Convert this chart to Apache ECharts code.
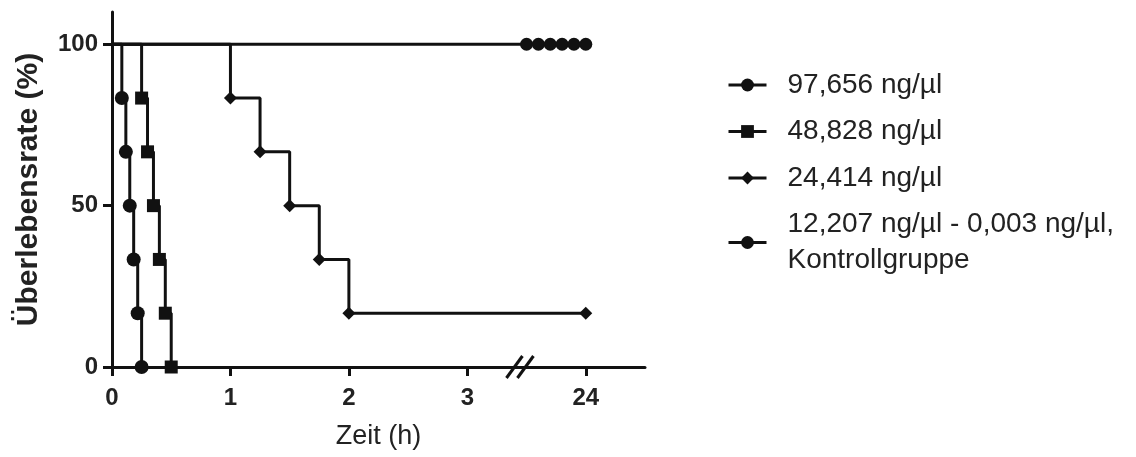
<!DOCTYPE html>
<html>
<head>
<meta charset="utf-8">
<script src="https://cdn.jsdelivr.net/npm/echarts@6/dist/echarts.min.js"></script>
<style>
html,body{margin:0;padding:0;background:#fff;}
#c{width:1136px;height:457px;}
</style>
</head>
<body>
<div id="c"></div>
<script>
// Axis positions: 0,1,2,3 h, then axis break, position 4 = 24 h
const xTickPos = [0, 1, 2, 3, 4];
const xTickLabels = ['0', '1', '2', '3', '24'];
const yTicks = [0, 50, 100];
const seriesNames = ['97,656 ng/µl', '48,828 ng/µl', '24,414 ng/µl', '12,207 ng/µl - 0,003 ng/µl,\nKontrollgruppe'];

const x97 = [0, 0.083, 0.117, 0.15, 0.183, 0.217, 0.25];
const y97 = [100, 83.33, 66.67, 50, 33.33, 16.67, 0];
const x48 = [0, 0.25, 0.3, 0.35, 0.4, 0.45, 0.5];
const y48 = [100, 83.33, 66.67, 50, 33.33, 16.67, 0];
const x24 = [0, 1, 1.25, 1.5, 1.75, 2, 4];
const y24 = [100, 83.33, 66.67, 50, 33.33, 16.67, 16.67];
const xCtrl = [0, 3.5, 3.6, 3.7, 3.8, 3.9, 4.0];
const yCtrl = [100, 100, 100, 100, 100, 100, 100];

const INK = '#111';
const TXT = '#222';
const FONT = 'Liberation Sans, Arial, sans-serif';

function pts(xs, ys) {
  return xs.map((x, i) => i === 0 ? { value: [x, ys[i]], symbol: 'none' } : [x, ys[i]]);
}
function mk(name, xs, ys, symbol, size) {
  return {
    name: name, type: 'line', step: 'end', data: pts(xs, ys),
    symbol: symbol, symbolSize: size, showSymbol: true,
    lineStyle: { color: INK, width: 3 },
    itemStyle: { color: INK },
    emphasis: { disabled: true }, animation: false, z: 3
  };
}

const chart = echarts.init(document.getElementById('c'), null, { renderer: 'canvas' });
const option = {
  backgroundColor: '#fff',
  animation: false,
  grid: { left: 112, right: 491, top: 12, bottom: 90 },
  xAxis: {
    type: 'value', min: 0, max: 4.5,
    name: 'Zeit (h)', nameLocation: 'middle', nameGap: 56,
    nameTextStyle: { fontFamily: FONT, fontSize: 27, color: TXT },
    axisLine: { show: true, onZero: true, lineStyle: { color: INK, width: 3 } },
    axisTick: { show: true, length: 9, customValues: xTickPos, lineStyle: { color: INK, width: 3 } },
    axisLabel: {
      customValues: xTickPos, margin: 19,
      formatter: function (v) { const i = xTickPos.indexOf(v); return i >= 0 ? xTickLabels[i] : ''; },
      fontFamily: FONT, fontSize: 24, fontWeight: 'bold', color: TXT
    },
    splitLine: { show: false }
  },
  yAxis: {
    type: 'value', min: 0, max: 110,
    name: 'Überlebensrate (%)', nameLocation: 'middle', nameGap: 68, nameRotate: 90,
    nameTextStyle: { fontFamily: FONT, fontSize: 30, fontWeight: 'bold', color: TXT },
    axisLine: { show: true, lineStyle: { color: INK, width: 3 } },
    axisTick: { show: true, length: 9, customValues: yTicks, lineStyle: { color: INK, width: 3 } },
    axisLabel: {
      customValues: yTicks, margin: 14,
      fontFamily: FONT, fontSize: 24, fontWeight: 'bold', color: TXT
    },
    splitLine: { show: false }
  },
  legend: {
    orient: 'vertical', left: 727, top: 67, padding: 0,
    itemWidth: 38, itemHeight: 16, itemGap: 10.5,
    selectedMode: false,
    data: seriesNames,
    lineStyle: { width: 3 },
    textStyle: {
      fontFamily: FONT, fontSize: 28, color: TXT,
      lineHeight: 36, padding: [0, 0, 0, 16]
    }
  },
  series: [
    mk(seriesNames[3], xCtrl, yCtrl, 'circle', 13),
    mk(seriesNames[0], x97, y97, 'circle', 14),
    mk(seriesNames[1], x48, y48, 'rect', 13),
    mk(seriesNames[2], x24, y24, 'diamond', 13)
  ]
};
chart.setOption(option);

// axis break marks "//" on x axis
const bp = chart.convertToPixel({ gridIndex: 0 }, [3.44, 0]);
const slash = (dx) => ({
  type: 'line', silent: true, z: 100,
  shape: { x1: bp[0] + dx - 8, y1: bp[1] + 11, x2: bp[0] + dx + 8, y2: bp[1] - 11 },
  style: { stroke: INK, lineWidth: 3 }
});
chart.setOption({ graphic: [slash(-5), slash(6)] });
</script>
</body>
</html>
